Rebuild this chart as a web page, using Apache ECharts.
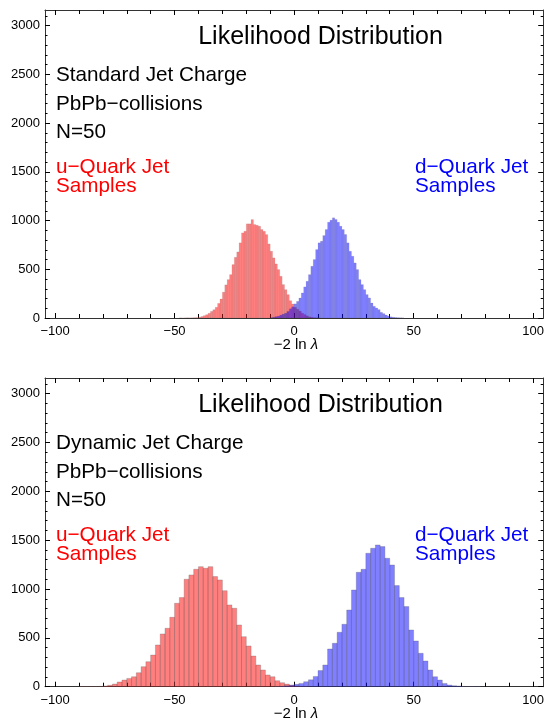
<!DOCTYPE html>
<html>
<head>
<meta charset="utf-8">
<script src="https://cdn.jsdelivr.net/npm/echarts@6/dist/echarts.min.js"></script>
<style>
html,body{margin:0;padding:0;background:#fff;}
#chart{width:547px;height:726px;}
</style>
</head>
<body>
<div id="chart"></div>
<script>
// ---------- data ----------
const xTickLabels = [-100, -50, 0, 50, 100];
const xMinorTicks = [-100,-90,-80,-70,-60,-50,-40,-30,-20,-10,0,10,20,30,40,50,60,70,80,90,100];
const yTickLabels = [0, 500, 1000, 1500, 2000, 2500, 3000];
const yMinorTicks = [0,100,200,300,400,500,600,700,800,900,1000,1100,1200,1300,1400,1500,1600,1700,1800,1900,2000,2100,2200,2300,2400,2500,2600,2700,2800,2900,3000,3100];

// top panel: Standard Jet Charge, bin width 1
const topBinWidth = 1;
const topRedStart = -48;
const topRedCounts = [1,0,1,2,1,2,3,4,8,15,24,34,48,68,85,110,150,195,265,340,394,445,548,623,678,771,873,890,966,966,1010,959,952,942,908,890,856,760,685,617,555,497,428,343,291,240,178,144,110,90,70,50,35,22,12,6,3,2,1];
const topBlueStart = -10;
const topBlueCounts = [3,8,14,20,30,40,50,68,95,115,145,171,205,257,319,377,445,531,600,702,771,788,846,908,983,1004,1028,1011,983,942,908,857,771,685,634,565,497,394,343,291,240,206,154,120,103,86,58,45,31,20,12,8,5,3,2,1];

// bottom panel: Dynamic Jet Charge, bin width 2
const botBinWidth = 2;
const botRedStart = -90;
const botRedCounts = [1,2,1,2,3,7,14,27,48,68,85,102,143,205,256,324,427,540,598,710,854,912,1100,1144,1202,1229,1212,1229,1127,1093,983,837,803,632,512,417,314,222,171,120,102,61,41,27,14,7,3,1];
const botBlueStart = -8;
const botBlueCounts = [2,4,9,15,24,34,51,70,105,165,222,386,444,557,639,785,990,1171,1202,1366,1417,1451,1434,1315,1246,1035,912,820,581,468,342,263,171,102,68,34,17,10,7,3,2,2,1];

const panelTitle = 'Likelihood Distribution';
const panelLines = [
  ['Standard Jet Charge', 'PbPb\u2212collisions', 'N=50'],
  ['Dynamic Jet Charge', 'PbPb\u2212collisions', 'N=50']
];
const redLabel = ['u\u2212Quark Jet', 'Samples'];
const blueLabel = ['d\u2212Quark Jet', 'Samples'];

// ---------- build ----------
function bins(start, width, counts) {
  return counts.map((c, i) => [start + i * width, start + (i + 1) * width, c]);
}
const FONT = '"Liberation Sans", Arial, sans-serif';
const fmt = v => (v < 0 ? '\u2212' + Math.abs(v) : String(v));

const grids = [
  { left: 45, top: 10, width: 499.5, height: 308 },
  { left: 45, top: 378, width: 499.5, height: 308.7 }
];
const dy = 368;

const xAxes = [], yAxes = [];
grids.forEach((g, gi) => {
  const baseX = { type: 'value', gridIndex: gi, min: -104.2, max: 104.2, splitLine: { show: false } };
  xAxes.push(Object.assign({}, baseX, {
    position: 'bottom',
    axisLine: { show: true, onZero: false, lineStyle: { color: '#333', width: 1 } },
    axisTick: { show: true, inside: true, length: 5, customValues: xTickLabels, lineStyle: { color: '#000', width: 1 } },
    axisLabel: { show: true, customValues: xTickLabels, formatter: fmt, margin: 7, color: '#000', fontSize: 13, fontFamily: FONT }
  }));
  xAxes.push(Object.assign({}, baseX, {
    position: 'bottom',
    axisLine: { show: false, onZero: false },
    axisTick: { show: true, inside: true, length: 4, customValues: xMinorTicks, lineStyle: { color: '#000', width: 1 } },
    axisLabel: { show: false }
  }));
  xAxes.push(Object.assign({}, baseX, {
    position: 'top',
    axisLine: { show: true, onZero: false, lineStyle: { color: '#333', width: 1 } },
    axisTick: { show: true, inside: true, length: 5, customValues: xTickLabels, lineStyle: { color: '#000', width: 1 } },
    axisLabel: { show: false }
  }));
  xAxes.push(Object.assign({}, baseX, {
    position: 'top',
    axisLine: { show: false, onZero: false },
    axisTick: { show: true, inside: true, length: 4, customValues: xMinorTicks, lineStyle: { color: '#000', width: 1 } },
    axisLabel: { show: false }
  }));

  const baseY = { type: 'value', gridIndex: gi, min: 0, max: 3160, splitLine: { show: false } };
  ['left', 'right'].forEach(pos => {
    yAxes.push(Object.assign({}, baseY, {
      position: pos,
      axisLine: { show: true, onZero: false, lineStyle: { color: '#333', width: 1 } },
      axisTick: { show: true, inside: true, length: 5, customValues: yTickLabels, lineStyle: { color: '#000', width: 1 } },
      axisLabel: { show: pos === 'left', customValues: yTickLabels, formatter: v => String(v), margin: 5, color: '#000', fontSize: 13, fontFamily: FONT }
    }));
    yAxes.push(Object.assign({}, baseY, {
      position: pos,
      axisLine: { show: false, onZero: false },
      axisTick: { show: true, inside: true, length: 2.5, customValues: yMinorTicks, lineStyle: { color: '#000', width: 1 } },
      axisLabel: { show: false }
    }));
  });
});

function makeRender(fill, stroke, lw) {
  return function (params, api) {
    const x0 = api.value(0), x1 = api.value(1), c = api.value(2);
    const p0 = api.coord([x0, c]);
    const p1 = api.coord([x1, 0]);
    return {
      type: 'rect',
      shape: { x: p0[0], y: p0[1], width: p1[0] - p0[0], height: p1[1] - p0[1] },
      style: { fill: fill, stroke: stroke, lineWidth: lw }
    };
  };
}
const RED = 'rgba(255,0,0,0.5)', BLUE = 'rgba(0,0,255,0.5)';
function series(gi, data, fill, stroke, lw) {
  return {
    type: 'custom',
    xAxisIndex: gi * 4, yAxisIndex: gi * 4,
    encode: { x: [0, 1], y: 2 },
    data: data,
    renderItem: makeRender(fill, stroke, lw),
    clip: true,
    silent: true
  };
}
const seriesList = [
  series(0, bins(topRedStart, topBinWidth, topRedCounts), RED, 'rgba(90,90,90,0.22)', 0.5),
  series(0, bins(topBlueStart, topBinWidth, topBlueCounts), BLUE, 'rgba(90,90,90,0.22)', 0.5),
  series(1, bins(botRedStart, botBinWidth, botRedCounts), RED, 'rgba(90,90,90,0.35)', 0.8),
  series(1, bins(botBlueStart, botBinWidth, botBlueCounts), BLUE, 'rgba(90,90,90,0.35)', 0.8)
];

const graphics = [];
function txt(text, x, y, size, color, align, rich) {
  const st = { text: text, x: x, y: y, fill: color, font: size + 'px ' + FONT, align: align || 'left', verticalAlign: 'middle' };
  if (rich) st.rich = rich;
  graphics.push({ type: 'text', style: st, silent: true });
}
[0, 1].forEach(gi => {
  const o = gi * dy;
  txt(panelTitle, 320.5, 37.4 + o, 25, '#000', 'center');
  txt(panelLines[gi][0], 56, 75 + o, 20.7, '#000');
  txt(panelLines[gi][1], 56, 104.2 + o, 20.7, '#000');
  txt(panelLines[gi][2], 56, 132.5 + o, 20.7, '#000');
  txt(redLabel[0], 56, 167.5 + o, 20.7, '#ff0000');
  txt(redLabel[1], 56, 186.5 + o, 20.7, '#ff0000');
  txt(blueLabel[0], 415, 167.5 + o, 20.7, '#0000ff');
  txt(blueLabel[1], 415, 186.5 + o, 20.7, '#0000ff');
  txt('\u22122 ln {i|\u03bb}', 296, 345 + o + (gi ? 0.7 : 0), 15, '#000', 'center',
      { i: { fontStyle: 'italic', fontSize: 15, fontFamily: FONT, fill: '#000' } });
});

const chart = echarts.init(document.getElementById('chart'), null, { renderer: 'canvas' });
chart.setOption({
  animation: false,
  backgroundColor: '#fff',
  grid: grids,
  xAxis: xAxes,
  yAxis: yAxes,
  series: seriesList,
  graphic: graphics
});
</script>
</body>
</html>
